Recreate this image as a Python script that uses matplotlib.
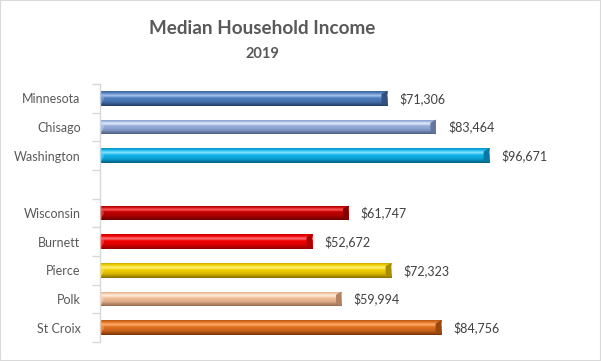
import matplotlib
matplotlib.use("Agg")
import matplotlib.pyplot as plt
import numpy as np
from matplotlib.colors import to_rgb
from matplotlib.patches import Polygon, Rectangle

categories = ["Minnesota", "Chisago", "Washington", "", "Wisconsin", "Burnett", "Pierce", "Polk", "St Croix"]
values = [71306, 83464, 96671, None, 61747, 52672, 72323, 59994, 84756]
value_labels = ["$71,306", "$83,464", "$96,671", "", "$61,747", "$52,672", "$72,323", "$59,994", "$84,756"]
# (highlight, base, dark)
bar_colors = [
    ("#a9c6ec", "#4f7fc0", "#243f66"),
    ("#e6eefb", "#96addb", "#4d5f85"),
    ("#8fe6ff", "#10b4ea", "#005f85"),
    None,
    ("#ff5a5a", "#c00000", "#6a0000"),
    ("#ff7a7a", "#f00000", "#900000"),
    ("#fff27a", "#f2d000", "#8a7000"),
    ("#fff0e2", "#f2bf98", "#96684c"),
    ("#ffb070", "#e07020", "#7a3505"),
]

plt.rcParams['font.family'] = ['Lato', 'DejaVu Sans']

fig = plt.figure(figsize=(6.01, 3.61), dpi=100)
fig.patches.append(Rectangle((0, 0), 1, 1, transform=fig.transFigure, fill=False,
                             edgecolor="#d9d9d9", linewidth=1.5))
W, H = 601, 361
ax = fig.add_axes([100 / W, (H - 342) / H, (583 - 100) / W, (342 - 84) / H])
ax.set_xlim(0, 120000)
ax.set_ylim(len(categories) - 0.5, -0.5)

bh = 0.52
px_per_x = (583 - 100) / 120000.0
bev = 5.5 / px_per_x

def gradient_img(hl, base, dark):
    hl, base, dark = np.array(to_rgb(hl)), np.array(to_rgb(base)), np.array(to_rgb(dark))
    stops = [(0.0, 0.6 * base + 0.4 * dark), (0.12, base), (0.3, hl), (0.45, base),
             (0.72, 0.75 * base + 0.25 * dark), (1.0, dark)]
    t = np.linspace(0, 1, 40)
    img = np.zeros((40, 1, 3))
    for c in range(3):
        img[:, 0, c] = np.interp(t, [s[0] for s in stops], [s[1][c] for s in stops])
    return img, dark, base

for i, (v, cols) in enumerate(zip(values, bar_colors)):
    if v is None:
        continue
    rect = ax.barh(i, v, height=bh, color="none", edgecolor="none")[0]
    img, dark, base = gradient_img(*cols)
    im = ax.imshow(img, extent=(0, v, i + bh / 2, i - bh / 2), aspect="auto",
                   interpolation="bilinear", zorder=2)
    im.set_clip_path(rect)
    # right end bevel
    ax.add_patch(Polygon([(v - bev, i - bh * 0.28), (v, i - bh / 2), (v, i + bh / 2),
                          (v - bev, i + bh * 0.28)], closed=True,
                         facecolor=0.3 * base + 0.7 * dark, edgecolor="none", zorder=3))
    # left end bevel
    ax.add_patch(Polygon([(0, i - bh / 2), (bev * 0.8, i), (0, i + bh / 2)], closed=True,
                         facecolor=tuple(np.clip(0.6 * base + 0.4, 0, 1)), alpha=0.5,
                         edgecolor="none", zorder=3))
    ax.text(v + 12 / px_per_x, i, value_labels[i], va="center", ha="left",
            fontsize=9, color="#404040")

ax.set_yticks(range(len(categories)))
ax.set_yticklabels(categories, fontsize=9, color="#595959")
ax.set_yticks(np.arange(-0.5, len(categories), 1), minor=True)
ax.tick_params(axis="y", which="major", length=0, pad=14)
ax.tick_params(axis="y", which="minor", length=6, color="#d9d9d9", width=1, direction="out")
ax.set_xticks([])
for s in ["top", "right", "bottom"]:
    ax.spines[s].set_visible(False)
ax.spines["left"].set_color("#d9d9d9")
ax.spines["left"].set_linewidth(1)

fig.text(262 / W, 1 - 28 / H, "Median Household Income", ha="center", va="center",
         fontsize=13.6, fontweight="bold", color="#595959")
fig.text(262 / W, 1 - 54 / H, "2019", ha="center", va="center",
         fontsize=10.5, fontweight="bold", color="#595959")

fig.savefig("out.png", dpi=100)
